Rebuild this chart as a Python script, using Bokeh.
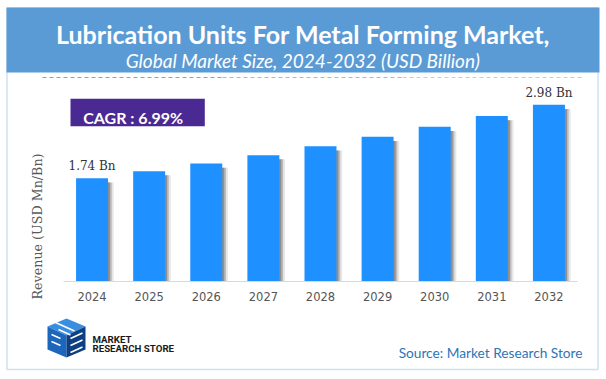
import math
from bokeh.plotting import figure
from bokeh.models import (ColumnDataSource, Range1d, BoxAnnotation, Label, Arrow)
from bokeh.transform import dodge
from bokeh.core.properties import value
from bokeh.embed import file_html
from bokeh.resources import INLINE

# ---------------- data ----------------
years = [2024, 2025, 2026, 2027, 2028, 2029, 2030, 2031, 2032]
year_labels = ["2024", "2025", "2026", "2027", "2028", "2029", "2030", "2031", "2032"]
revenue = [1.74, 1.86, 1.99, 2.13, 2.28, 2.44, 2.61, 2.79, 2.98]
label_years = [years[0], years[-1]]
label_values = [revenue[0], revenue[-1]]
label_texts = ["1.74 Bn", "2.98 Bn"]

title_text = "Lubrication Units For Metal Forming Market,"
subtitle_text = "Global Market Size, 2024-2032 (USD Billion)"
cagr_text = "CAGR : 6.99%"
y_label = "Revenue (USD Mn/Bn)"
source_text = "Source: Market Research Store"
logo_line1 = "MARKET"
logo_line2 = "RESEARCH STORE"

# ---------------- styles ----------------
BAR = "#1E90FF"
HEADER = "#5B9BD5"
PURPLE = "#4A2A92"
W, H = 600, 372

src = ColumnDataSource(dict(year=years, rev=revenue,
                            shadow=[v - 0.07 for v in revenue]))
lab = ColumnDataSource(dict(year=label_years, rev=label_values, txt=label_texts))
ticks = ColumnDataSource(dict(year=years, base=[0] * len(years), txt=year_labels))

p = figure(x_range=Range1d(years[0] - 1.603, years[-1] + 0.903),
           y_range=Range1d(-1.535, 4.739),
           width=W, height=H, min_border=0,
           x_axis_location=None, y_axis_location=None,
           output_backend="svg", toolbar_location=None, tools="", title=None)

p.background_fill_color = "white"
p.border_fill_color = "white"
p.outline_line_color = None
p.grid.visible = False

# canvas-pixel coordinate systems for decorations
p.extra_x_ranges = {"cx": Range1d(0, W)}
p.extra_y_ranges = {"cy": Range1d(H, 0)}
C = dict(x_range_name="cx", y_range_name="cy")

# header band
p.add_layout(BoxAnnotation(left=6, right=599, top=7, bottom=72,
                           fill_color=HEADER, fill_alpha=1, line_color=None,
                           level="underlay", **C))
# outer border
p.add_layout(BoxAnnotation(left=6.5, right=597.5, top=7.5, bottom=369,
                           fill_alpha=0, line_color=HEADER, line_width=1.5,
                           level="underlay", **C))

# titles
p.add_layout(Label(x=302.5, y=33.3, text=title_text, text_align="center",
                   text_baseline="alphabetic", text_font="Lato",
                   text_font_style="bold", text_font_size="25px",
                   text_color="white", **C))
p.add_layout(Label(x=302.3, y=60, text=subtitle_text, text_align="center",
                   text_baseline="alphabetic", text_font="Lato",
                   text_font_style="italic", text_font_size="19px",
                   text_color="white", **C))

# dashed orange line (fading)
for (xa, xb, col) in [(42, 222, "#EE8540"), (222, 402, "#F2A36F"), (402, 583, "#F6C09C")]:
    p.add_layout(Arrow(x_start=xa, y_start=77, x_end=xb, y_end=77, end=None,
                       start=None, line_color=col, line_width=1.2,
                       line_dash="4 3", **C))

# CAGR box
p.add_layout(BoxAnnotation(left=70, right=204.3, top=98.3, bottom=125.7,
                           fill_color=PURPLE, fill_alpha=1, line_color=None, **C))
p.add_layout(Label(x=82.7, y=117.3, text=cagr_text, text_align="left",
                   text_baseline="alphabetic", text_font="Lato",
                   text_font_style="bold", text_font_size="16px",
                   text_color="white", **C))

# bars with soft shadow
p.vbar(x=dodge("year", 0.10), top="shadow", width=0.56,
       source=src, fill_color="#7a7a7a", fill_alpha=0.18, line_color=None)
p.vbar(x=dodge("year", 0.065), top="shadow", width=0.56,
       source=src, fill_color="#7a7a7a", fill_alpha=0.40, line_color=None)
p.vbar(x=dodge("year", 0.035), top="shadow", width=0.56,
       source=src, fill_color="#6a6a6a", fill_alpha=0.55, line_color=None)
p.vbar(x="year", top="rev", width=0.56, source=src,
       fill_color=BAR, line_color=None)

# value labels on first and last bar
p.text(x="year", y="rev", text="txt", source=lab, y_offset=-12,
       text_align="center", text_baseline="middle",
       text_font=value("DejaVu Serif"), text_font_size="12px",
       text_color="#333333")

# category axis: baseline and year labels
p.segment(x0=years[0] - 0.5, y0=0, x1=years[-1] + 0.5, y1=0,
          line_color="#d9d9d9", line_width=1.2)
p.text(x="year", y="base", text="txt", source=ticks, y_offset=15,
       text_align="center", text_baseline="middle",
       text_font=value("DejaVu Sans"), text_font_size="11.5px",
       text_color="#555555")

# value-axis title
p.add_layout(Label(x=37, y=226, text=y_label, angle=math.pi / 2,
                   text_align="center", text_baseline="middle",
                   text_font="DejaVu Serif", text_font_size="12.7px",
                   text_color="#595959", **C))

# logo (cube with letter cut-outs)
p.patch(x=[66, 85, 66, 47], y=[318, 326, 335, 326],
        fill_color="#3A8EE0", line_color=None, **C)
p.patch(x=[47, 66, 66, 47], y=[326, 335, 357, 349],
        fill_color="#1C66BC", line_color=None, **C)
p.patch(x=[66, 85, 85, 66], y=[335, 326, 349, 357],
        fill_color="#0E3F82", line_color=None, **C)
p.segment(x0=[55, 58, 51, 51, 70, 70, 70], y0=[322, 329, 334, 341, 338, 345, 352],
          x1=[74, 70, 60, 60, 82, 82, 82], y1=[330.5, 334.5, 338, 345, 332.5, 339.5, 346.5],
          line_color="white", line_width=1.6, **C)
p.add_layout(Label(x=92, y=339, text=logo_line1, text_baseline="alphabetic",
                   text_font="Roboto", text_font_style="bold",
                   text_font_size="9.7px", text_color="#1a1a1a", **C))
p.add_layout(Label(x=92, y=348.3, text=logo_line2, text_baseline="alphabetic",
                   text_font="Roboto", text_font_style="bold",
                   text_font_size="9.7px", text_color="#1a1a1a", **C))

# source
p.add_layout(Label(x=582, y=351.7, text=source_text, text_align="right",
                   text_baseline="alphabetic", text_font="Lato",
                   text_font_size="13.7px", text_color="#2E75B6", **C))

open("out.html", "w").write(file_html(p, INLINE))
